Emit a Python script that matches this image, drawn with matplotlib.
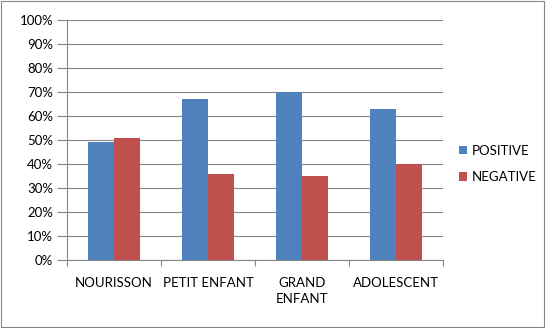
import numpy as np
import matplotlib.pyplot as plt
from matplotlib.patches import Rectangle

categories = ['NOURISSON', 'PETIT ENFANT', 'GRAND\nENFANT', 'ADOLESCENT']
positive = [49, 67, 70, 63]
negative = [51, 36, 35, 40]

plt.rcParams['font.family'] = ['Lato', 'DejaVu Sans']
fs = 9.5

fig = plt.figure(figsize=(5.46, 3.28), dpi=100)
ax = fig.add_axes([67/546, 68/328, 376/546, 240/328])

x = np.arange(len(categories))
w = 0.275
ax.bar(x - w/2, positive, w, color='#4F81BD', label='POSITIVE', zorder=3)
ax.bar(x + w/2, negative, w, color='#C0504D', label='NEGATIVE', zorder=3)

ax.set_xlim(-0.5, len(categories) - 0.5)
ax.set_ylim(0, 100)
ax.set_yticks(np.arange(0, 101, 10))
ax.set_yticklabels(['%d%%' % v for v in range(0, 101, 10)], fontsize=fs)
ax.yaxis.grid(True, color='#868686', linewidth=0.8, zorder=0)
ax.tick_params(axis='y', length=7, color='#868686', pad=3)

ax.set_xticks(np.arange(-0.5, len(categories)), minor=False)
ax.set_xticklabels([])
ax.set_xticks(x, minor=True)
ax.set_xticklabels(categories, minor=True, fontsize=fs, linespacing=1.4)
ax.tick_params(axis='x', which='major', length=4, color='#868686', direction='out')
ax.tick_params(axis='x', which='minor', length=0, pad=12)

for s in ['top', 'right']:
    ax.spines[s].set_visible(False)
for s in ['left', 'bottom']:
    ax.spines[s].set_color('#868686')

ax.legend(loc='center left', bbox_to_anchor=(1.01, 0.4), frameon=False,
          fontsize=fs, handlelength=0.6, handleheight=0.6, labelspacing=1.1,
          handletextpad=0.4)

fig.patches.append(Rectangle((0.002, 0.003), 0.995, 0.994, transform=fig.transFigure,
                             fill=False, edgecolor='#868686', linewidth=0.8))

fig.savefig('out.png', dpi=100)
